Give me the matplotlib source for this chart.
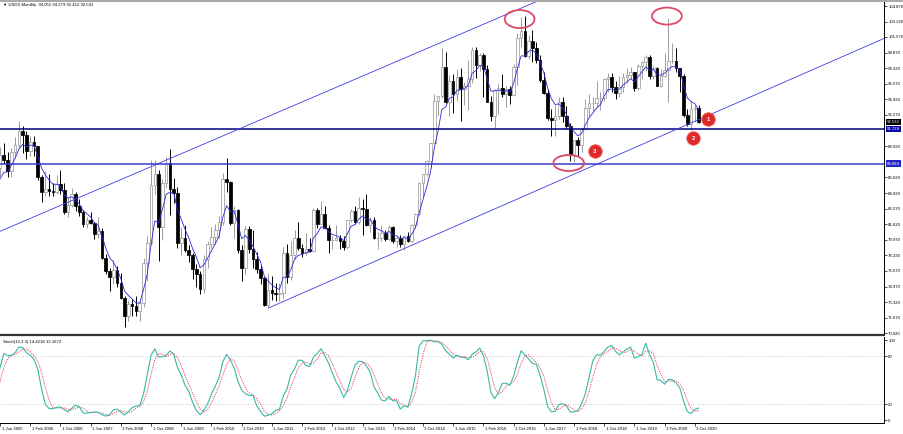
import numpy as np
import pandas as pd
import matplotlib
matplotlib.use("Agg")
import matplotlib.pyplot as plt
from matplotlib.patches import Ellipse
from matplotlib.lines import Line2D
from matplotlib.transforms import ScaledTranslation

# ---------------- data (USDX monthly, first bar = Jan 2004) ----------------
symbol_title = "\u25bc USDX,Monthly  94.051 94.279 92.412 92.532"
stoch_title = "Stoch(12,3,3) 14.4218 12.1672"
start = "2004-01"

opens = [
    86.9, 87.3, 87.7, 88.1, 90.9, 88.8, 88.7, 89.2, 88.9, 87.7, 85.2, 81.6,      # 2004
    81.0, 83.9, 82.6, 84.5, 84.3, 87.6, 89.0, 88.5, 87.3, 89.3, 90.1, 91.6,      # 2005
    91.1, 89.4, 90.4, 89.9, 86.6, 85.1, 85.4, 85.2, 85.0, 85.9, 85.3, 82.9,      # 2006
    83.7, 84.8, 83.6, 82.9, 81.6, 82.1, 81.7, 80.6, 80.9, 78.0, 76.6, 76.0,      # 2007
    76.7, 75.3, 73.8, 71.8, 73.1, 72.9, 72.4, 73.2, 77.5, 79.6, 85.8, 87.0,      # 2008
    81.3, 86.0, 88.1, 85.4, 84.9, 79.6, 80.1, 78.9, 78.3, 76.8, 76.3, 74.7,      # 2009
    77.9, 79.5, 80.3, 81.0, 81.9, 86.4, 86.1, 81.7, 83.1, 78.9, 76.9, 81.1,      # 2010
    79.0, 77.9, 76.8, 75.9, 73.0, 74.6, 74.3, 74.2, 74.3, 78.6, 76.0, 78.3,      # 2011
    80.2, 79.1, 78.6, 79.0, 78.8, 83.1, 81.6, 82.7, 81.2, 79.9, 79.9, 80.2,      # 2012
    79.8, 79.2, 82.1, 83.0, 81.9, 83.3, 83.2, 81.5, 82.1, 80.2, 80.2, 80.7,      # 2013
    80.0, 81.3, 79.8, 80.1, 79.5, 80.4, 79.8, 81.5, 82.7, 86.0, 87.0, 88.4,      # 2014
    90.3, 94.8, 95.3, 98.4, 94.6, 96.9, 95.5, 97.3, 96.0, 96.4, 97.1, 100.2,     # 2015
    98.6, 99.6, 98.2, 94.6, 93.1, 95.9, 96.1, 95.5, 96.0, 95.4, 98.4, 101.5,     # 2016
    102.2, 99.5, 101.1, 100.4, 99.1, 97.0, 95.6, 92.9, 92.7, 93.1, 94.6, 93.1,   # 2017
    92.1, 89.1, 90.6, 90.1, 91.8, 94.0, 94.5, 94.5, 95.1, 95.1, 97.1, 97.3,      # 2018
    96.2, 95.6, 96.2, 97.3, 97.5, 97.8, 96.1, 98.5, 98.9, 99.4, 97.4, 98.3,      # 2019
    96.4, 97.4, 98.1, 99.0, 99.0, 98.3, 97.4, 93.3, 92.3, 93.9, 94.05,           # 2020
]
highs = [
    88.3, 89.4, 89.9, 91.4, 91.7, 89.9, 89.4, 89.7, 89.7, 87.9, 85.4, 82.3,
    84.8, 84.5, 85.0, 85.7, 88.2, 89.8, 90.3, 89.3, 89.7, 90.9, 92.6, 92.1,
    91.5, 91.0, 91.0, 90.0, 86.9, 87.3, 87.0, 86.0, 86.9, 87.4, 86.0, 84.5,
    85.5, 85.1, 84.3, 83.1, 82.4, 82.9, 81.9, 82.4, 81.2, 78.4, 76.9, 77.8,
    77.2, 76.4, 74.0, 73.5, 73.6, 74.0, 73.4, 78.0, 80.4, 88.5, 88.5, 87.4,
    86.4, 88.8, 89.6, 86.5, 85.6, 81.3, 81.5, 79.4, 78.5, 77.4, 76.6, 78.3,
    79.8, 81.3, 81.6, 82.5, 87.1, 88.7, 86.2, 83.6, 83.2, 79.4, 81.4, 81.4,
    81.0, 78.7, 77.3, 76.0, 76.4, 76.1, 75.4, 75.3, 79.2, 79.5, 79.8, 81.0,
    81.8, 79.5, 80.7, 80.1, 83.3, 83.3, 84.1, 83.6, 81.5, 80.4, 81.5, 80.5,
    80.4, 82.1, 83.2, 83.6, 84.5, 84.3, 84.8, 82.4, 82.4, 80.8, 81.5, 81.0,
    81.5, 81.4, 80.4, 80.5, 80.5, 80.8, 81.6, 82.8, 86.1, 87.0, 88.5, 90.3,
    95.5, 95.3, 100.4, 100.0, 97.5, 97.6, 98.2, 98.3, 96.8, 99.1, 100.5, 100.5,
    99.9, 99.9, 98.6, 95.3, 96.0, 96.7, 97.6, 96.3, 96.3, 98.7, 102.0, 103.7,
    103.8, 101.8, 102.3, 101.0, 99.7, 97.8, 96.0, 93.9, 94.3, 95.2, 95.2, 94.2,
    92.4, 90.6, 90.9, 91.9, 95.0, 95.5, 95.2, 96.9, 95.7, 97.2, 97.7, 97.7,
    96.9, 97.4, 97.7, 98.3, 98.4, 97.8, 98.7, 99.0, 99.7, 99.7, 98.5, 98.4,
    98.2, 99.9, 103.6, 100.9, 100.4, 98.3, 97.6, 93.9, 94.7, 94.3, 94.28,
]
lows = [
    84.6, 85.0, 87.0, 87.5, 88.6, 87.8, 86.7, 87.7, 87.2, 84.6, 81.4, 80.4,
    80.4, 81.9, 80.6, 83.2, 84.0, 86.8, 88.0, 86.7, 86.7, 88.7, 89.7, 89.2,
    88.6, 88.9, 88.9, 86.3, 84.0, 84.6, 84.6, 84.6, 84.8, 84.8, 82.7, 82.4,
    83.5, 83.0, 82.5, 81.3, 81.2, 81.6, 80.0, 80.2, 77.9, 76.3, 74.5, 75.2,
    74.9, 73.6, 70.7, 71.3, 71.8, 71.8, 71.3, 72.8, 75.6, 79.4, 84.8, 77.7,
    79.9, 85.5, 82.6, 83.9, 79.1, 78.3, 78.7, 77.6, 75.8, 74.9, 74.2, 74.3,
    76.9, 79.1, 79.5, 80.1, 81.5, 85.0, 81.5, 80.2, 78.6, 75.6, 76.3, 78.6,
    77.0, 76.4, 75.2, 72.9, 72.7, 73.5, 73.4, 73.4, 73.8, 75.3, 75.7, 77.9,
    78.9, 78.1, 78.3, 78.7, 78.7, 81.2, 81.6, 81.2, 78.6, 79.0, 79.9, 79.0,
    78.9, 79.0, 81.9, 81.6, 81.6, 80.5, 81.4, 80.8, 80.0, 79.0, 79.8, 79.8,
    79.9, 79.6, 79.2, 79.2, 78.9, 79.7, 79.7, 81.2, 82.6, 84.5, 86.8, 87.6,
    90.2, 93.2, 95.1, 94.5, 93.1, 93.5, 94.8, 92.6, 94.3, 93.8, 96.7, 97.2,
    97.9, 95.2, 94.6, 92.6, 91.9, 93.4, 95.2, 94.1, 94.4, 95.3, 96.5, 100.5,
    99.4, 99.2, 98.9, 98.8, 96.8, 95.5, 92.7, 91.0, 91.0, 92.8, 92.5, 91.8,
    88.4, 88.3, 88.9, 89.3, 91.7, 93.2, 93.7, 94.1, 93.8, 94.8, 95.7, 95.7,
    95.0, 95.2, 95.7, 96.7, 97.1, 95.8, 95.9, 97.1, 97.9, 97.1, 97.1, 96.4,
    96.2, 97.3, 94.6, 98.8, 97.8, 95.7, 93.0, 92.1, 91.7, 92.5, 92.41,
]
closes = [
    87.3, 87.7, 88.1, 90.9, 88.8, 88.7, 89.2, 88.9, 87.7, 85.2, 81.6, 81.0,
    83.9, 82.6, 84.5, 84.3, 87.6, 89.0, 88.5, 87.3, 89.3, 90.1, 91.6, 91.1,
    89.4, 90.4, 89.9, 86.6, 85.1, 85.4, 85.2, 85.0, 85.9, 85.3, 82.9, 83.7,
    84.8, 83.6, 82.9, 81.6, 82.1, 81.7, 80.6, 80.9, 78.0, 76.6, 76.0, 76.7,
    75.3, 73.8, 71.8, 73.1, 72.9, 72.4, 73.2, 77.5, 79.6, 85.8, 87.0, 81.3,
    86.0, 88.1, 85.4, 84.9, 79.6, 80.1, 78.9, 78.3, 76.8, 76.3, 74.7, 77.9,
    79.5, 80.3, 81.0, 81.9, 86.4, 86.1, 81.7, 83.1, 78.9, 76.9, 81.1, 79.0,
    77.9, 76.8, 75.9, 73.0, 74.6, 74.3, 74.2, 74.3, 78.6, 76.0, 78.3, 80.2,
    79.1, 78.6, 79.0, 78.8, 83.1, 81.6, 82.7, 81.2, 79.9, 79.9, 80.2, 79.8,
    79.2, 82.1, 83.0, 81.9, 83.3, 83.2, 81.5, 82.1, 80.2, 80.2, 80.7, 80.0,
    81.3, 79.8, 80.1, 79.5, 80.4, 79.8, 81.5, 82.7, 86.0, 87.0, 88.4, 90.3,
    94.8, 95.3, 98.4, 94.6, 96.9, 95.5, 97.3, 96.0, 96.4, 97.1, 100.2, 98.6,
    99.6, 98.2, 94.6, 93.1, 95.9, 96.1, 95.5, 96.0, 95.4, 98.4, 101.5, 102.2,
    99.5, 101.1, 100.4, 99.1, 97.0, 95.6, 92.9, 92.7, 93.1, 94.6, 93.1, 92.1,
    89.1, 90.6, 90.1, 91.8, 94.0, 94.5, 94.5, 95.1, 95.1, 97.1, 97.3, 96.2,
    95.6, 96.2, 97.3, 97.5, 97.8, 96.1, 98.5, 98.9, 99.4, 97.4, 98.3, 96.4,
    97.4, 98.1, 99.0, 99.0, 98.3, 97.4, 93.3, 92.3, 93.9, 94.0, 92.53,
]

support_levels = [91.724, 88.084]
last_price = 92.532
price_tick_labels = ["70.020", "71.670", "73.320", "74.970", "76.670", "78.320",
                     "79.970", "81.620", "83.270", "84.920", "86.620", "89.920",
                     "93.270", "94.920", "96.570", "98.220", "99.870", "101.570",
                     "103.220", "104.870"]
date_tick_labels = ["1 Jun 2005", "1 Feb 2006", "1 Oct 2006", "1 Jun 2007", "1 Feb 2008",
                    "1 Oct 2008", "1 Jun 2009", "1 Feb 2010", "1 Oct 2010", "1 Jun 2011",
                    "1 Feb 2012", "1 Oct 2012", "1 Jun 2013", "1 Feb 2014", "1 Oct 2014",
                    "1 Jun 2015", "1 Feb 2016", "1 Oct 2016", "1 Jun 2017", "1 Feb 2018",
                    "1 Oct 2018", "1 Jun 2019", "1 Feb 2020", "1 Oct 2020"]
stoch_levels = [20, 80]
stoch_tick_labels = ["0", "20", "80", "100"]

# channel lines: (month, price) anchor pairs
upper_channel = [("2005-06", 80.89), ("2017-05", 105.51)]
lower_channel = [("2011-05", 72.69), ("2024-12", 101.40)]
# annotation ellipses: (month, price, width in months, height in price)
ellipses = [("2016-12", 103.48, 7.9, 1.92), ("2020-03", 103.80, 7.9, 1.81),
            ("2018-01", 88.14, 8.1, 1.70)]
markers = [("1", "2021-01", 92.83), ("2", "2020-09", 90.80), ("3", "2018-07", 89.42)]

# ---------------- helpers ----------------
t0 = pd.Period(start, freq="M")


def midx(s):
    """month index relative to first bar"""
    return (pd.Period(s, freq="M") - t0).n


df = pd.DataFrame({"o": opens, "h": highs, "l": lows, "c": closes})
x = np.arange(len(df))
ema = df["c"].ewm(span=5, adjust=False).mean()
hh = df["h"].rolling(12).max()
ll = df["l"].rolling(12).min()
k = 100 * (df["c"] - ll).rolling(3).sum() / (hh - ll).rolling(3).sum()
d = k.rolling(3).mean()

# ---------------- figure ----------------
W, H = 904, 434
fig = plt.figure(figsize=(W / 100, H / 100), dpi=100)
fig.patch.set_facecolor("white")
plt.rcParams["font.family"] = ["Liberation Sans", "DejaVu Sans"]
FS = 3.1

px_per_month = 3.78
x_left = midx("2005-06") + 0.85 / px_per_month
x_right = x_left + 884 / px_per_month

ax = fig.add_axes([0, (H - 335) / H, 884 / W, 333 / H])
axs = fig.add_axes([0, (H - 423) / H, 884 / W, 86 / H], sharex=ax)

# candles
up = df["c"] >= df["o"]
bull_col = "#9c9c9c"
ax.vlines(x[up], df["l"][up], df["h"][up], color=bull_col, lw=0.7, zorder=2)
ax.vlines(x[~up], df["l"][~up], df["h"][~up], color="black", lw=0.7, zorder=2)
body_lo = np.minimum(df["o"], df["c"])
body_h = (df["c"] - df["o"]).abs()
ax.bar(x[up], body_h[up], bottom=body_lo[up], width=0.7, facecolor="white",
       edgecolor=bull_col, linewidth=0.55, zorder=3)
ax.bar(x[~up], body_h[~up], bottom=body_lo[~up], width=0.7, facecolor="black",
       edgecolor="black", linewidth=0.55, zorder=3)

ax.plot(x, ema, color="#2a2ae0", lw=0.6, zorder=4)

# horizontal levels
ax.axhline(support_levels[0], color="#00007a", lw=1.1, zorder=5)
ax.axhline(support_levels[1], color="#3a3ad0", lw=1.1, zorder=5)

# channel
ux = [midx(upper_channel[0][0]) + 0.2, midx(upper_channel[1][0])]
uy = [upper_channel[0][1], upper_channel[1][1]]
slope = (uy[1] - uy[0]) / (ux[1] - ux[0])
ax.plot([ux[0] - 2, ux[1] + 2], [uy[0] - 2 * slope, uy[1] + 2 * slope],
        color="#3c3ce6", lw=0.6, zorder=5)
lx = [midx(lower_channel[0][0]) + 0.1, midx(lower_channel[1][0])]
ly = [lower_channel[0][1], lower_channel[1][1]]
ax.plot(lx, ly, color="#3c3ce6", lw=0.6, zorder=5)

for m, p, w, h in ellipses:
    ax.add_patch(Ellipse((midx(m) - 0.4, p), w, h, fill=False, ec="#e04868",
                         lw=1.3, zorder=6))
for lab, m, p in markers:
    ax.scatter([midx(m) + 0.5], [p], s=95, color="#e02a2a", edgecolors="#f06060",
               linewidths=0.5, zorder=7)
    ax.text(midx(m) + 0.5, p, lab, color="white", fontsize=4.2, ha="center",
            va="center", zorder=8, fontweight="bold")

ax.set_xlim(x_left, x_right)
ax.set_ylim(69.81, 105.30)

# price axis
ax.yaxis.tick_right()
ax.set_yticks([float(s) for s in price_tick_labels])
ax.set_yticklabels(price_tick_labels)
ax.tick_params(axis="y", direction="out", length=2.0, width=0.5, pad=1.0,
               labelsize=FS, colors="black")
ax.tick_params(axis="x", bottom=False, labelbottom=False)
for s in ["left", "top"]:
    ax.spines[s].set_visible(False)
ax.spines["right"].set_linewidth(0.7)
ax.spines["bottom"].set_linewidth(1.6)
ax.spines["bottom"].set_color("#333333")

box_kw = dict(transform=ax.get_yaxis_transform(), fontsize=FS, color="white",
              ha="left", va="center", zorder=10, clip_on=False)
ax.text(1.003, last_price, f"{last_price:.3f}",
        bbox=dict(boxstyle="square,pad=0.25", fc="black", ec="none"), **box_kw)
ax.text(1.003, support_levels[0], f"{support_levels[0]:.3f}",
        bbox=dict(boxstyle="square,pad=0.25", fc="#0a0aa8", ec="none"), **box_kw)
ax.text(1.003, support_levels[1], f"{support_levels[1]:.3f}",
        bbox=dict(boxstyle="square,pad=0.25", fc="#2626c8", ec="none"), **box_kw)

# stochastic
axs.axhline(stoch_levels[0], color="#b8b8b8", lw=0.6, ls=(0, (1, 2)))
axs.axhline(stoch_levels[1], color="#b8b8b8", lw=0.6, ls=(0, (1, 2)))
axs.plot(x, d, color="#f0405a", lw=0.7, ls=(0, (1.2, 1.2)), zorder=3)
axs.plot(x, k, color="#38b8aa", lw=0.8, zorder=4)
axs.set_ylim(-3.75, 103.75)
axs.yaxis.tick_right()
axs.set_yticks([float(s) for s in stoch_tick_labels])
axs.set_yticklabels(stoch_tick_labels)
axs.tick_params(axis="y", direction="out", length=2.0, width=0.5, pad=1.0,
                labelsize=FS)
for s in ["left", "top"]:
    axs.spines[s].set_visible(False)
axs.spines["right"].set_linewidth(0.7)
axs.spines["bottom"].set_linewidth(0.7)

date_pos = [midx(pd.to_datetime(s, format="%d %b %Y").strftime("%Y-%m"))
            for s in date_tick_labels]
axs.set_xticks(date_pos)
axs.set_xticklabels(date_tick_labels)
axs.tick_params(axis="x", direction="out", length=2, width=0.5, pad=1,
                labelsize=FS)
for lbl in axs.get_xticklabels():
    lbl.set_horizontalalignment("left")
    lbl.set_transform(lbl.get_transform() + ScaledTranslation(1.5 / 100, 0, fig.dpi_scale_trans))

axs.text(0.003, 0.96, stoch_title, transform=axs.transAxes, fontsize=FS,
         ha="left", va="top")
fig.text(3 / W, 1 - 5 / H, symbol_title, fontsize=FS, ha="left", va="center")
fig.add_artist(Line2D([0, 1], [1 - 0.6 / H, 1 - 0.6 / H], transform=fig.transFigure,
                      color="#9a9a9a", lw=1.2))

fig.savefig("out.png", dpi=100, facecolor="white")
